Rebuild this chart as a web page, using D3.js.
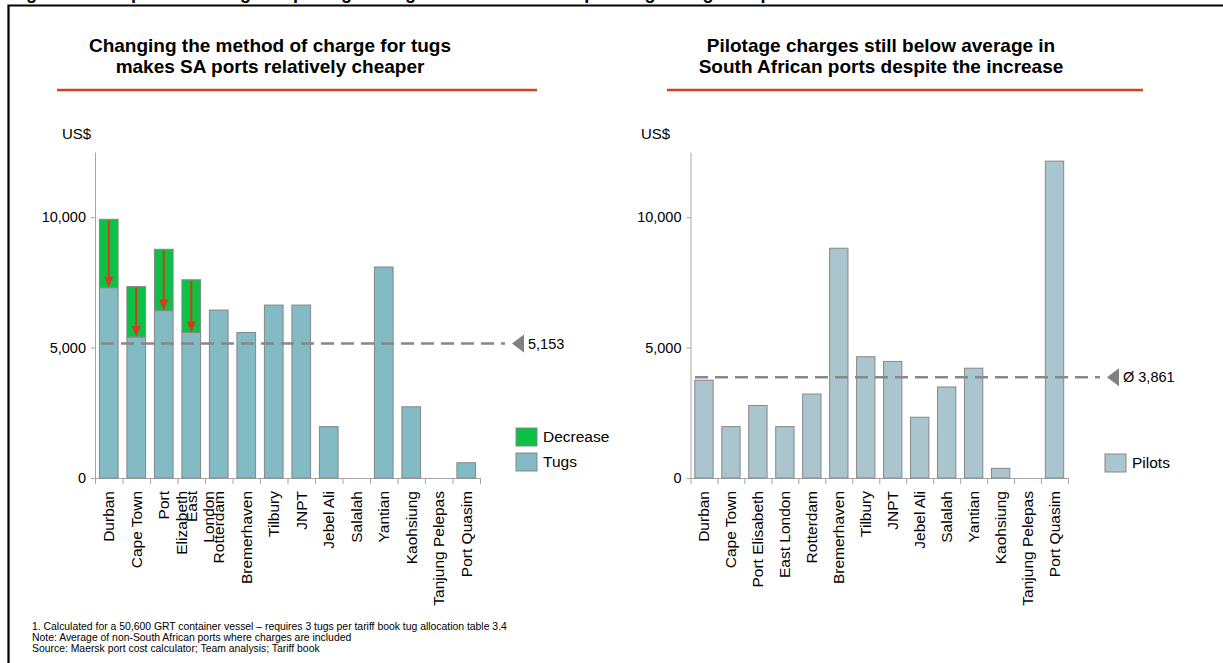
<!DOCTYPE html>
<html>
<head>
<meta charset="utf-8">
<script src="https://cdn.jsdelivr.net/npm/d3@7"></script>
<style>
  body { margin: 0; background: #fff; }
  svg { font-family: 'Liberation Sans', Arial, sans-serif; }
</style>
</head>
<body>
<svg id="chart" width="1223" height="663"></svg>
<script>
// left panel: tug charges
const tugPorts = ['Durban', 'Cape Town', 'Port\nElizabeth', 'East\nLondon', 'Rotterdam', 'Bremerhaven', 'Tilbury', 'JNPT', 'Jebel Ali', 'Salalah', 'Yantian', 'Kaohsiung', 'Tanjung Pelepas', 'Port Quasim'];
const tugValues = [7300, 5410, 6420, 5580, 6440, 5580, 6630, 6630, 1970, 0, 8090, 2730, 0, 585];
const decreaseValues = [2620, 1930, 2350, 2020, 0, 0, 0, 0, 0, 0, 0, 0, 0, 0];
const tugAverage = 5153;

// right panel: pilotage charges
const pilotPorts = ['Durban', 'Cape Town', 'Port Elisabeth', 'East London', 'Rotterdam', 'Bremerhaven', 'Tilbury', 'JNPT', 'Jebel Ali', 'Salalah', 'Yantian', 'Kaohsiung', 'Tanjung Pelepas', 'Port Quasim'];
const pilotValues = [3750, 1970, 2780, 1970, 3220, 8810, 4650, 4470, 2330, 3490, 4210, 370, 0, 12150];
const pilotAverage = 3861;

const yTicks = [0, 5000, 10000];
const yMax = 12500;

const svg = d3.select('#chart');
const axisColor = '#a6a6a6';
const barStroke = '#878787';

// frame + header line that sits above the page edge
svg.append('text')
  .attr('x', 10).attr('y', -1.5)
  .style('font-size', '18px').style('font-weight', 'bold')
  .text('Figure 6: Comparison of tug and pilotage charges in South African ports against global ports');
svg.append('path')
  .attr('d', 'M8.5,663 V5.5 H1223')
  .attr('fill', 'none').attr('stroke', '#000').attr('stroke-width', 2.2);

const y = d3.scaleLinear().domain([0, yMax]).range([478, 152]);

function drawTitle(lines, cx, x0, x1) {
  svg.append('text')
    .attr('text-anchor', 'middle')
    .style('font-size', '19px').style('font-weight', 'bold')
    .selectAll('tspan')
    .data(lines)
    .join('tspan')
    .attr('x', cx)
    .attr('y', (d, i) => 52 + i * 20.5)
    .text(d => d);
  svg.append('line')
    .attr('x1', x0).attr('x2', x1).attr('y1', 90).attr('y2', 90)
    .attr('stroke', '#d9401f').attr('stroke-width', 2.5);
}

function drawAxes(ports, x0, x1, usdX) {
  const x = d3.scaleBand().domain(ports).range([x0, x1]).paddingInner(0.32).paddingOuter(0.16);
  const edges = d3.scaleLinear().domain([0, ports.length]).range([x0, x1]);

  svg.append('text')
    .attr('x', usdX).attr('y', 139)
    .style('font-size', '15px')
    .text('US$');

  const yAxis = svg.append('g')
    .attr('transform', `translate(${x0},0)`)
    .call(d3.axisLeft(y).tickValues(yTicks).tickSize(4).tickSizeOuter(0).tickPadding(5).tickFormat(d3.format(',')));
  yAxis.selectAll('path, line').attr('stroke', axisColor);
  yAxis.selectAll('text').style('font-size', '14.5px').attr('fill', '#000').style('font-family', 'inherit');

  const xAxis = svg.append('g')
    .attr('transform', `translate(0,${y(0)})`)
    .call(d3.axisBottom(edges).tickValues(d3.range(ports.length + 1)).tickSize(6).tickSizeOuter(0).tickFormat(''));
  xAxis.selectAll('path, line').attr('stroke', axisColor);

  // rotated category labels, first line centred on the band
  svg.append('g')
    .selectAll('text')
    .data(ports)
    .join('text')
    .attr('transform', d => `translate(${x(d) + x.bandwidth() / 2},491) rotate(-90)`)
    .attr('text-anchor', 'end')
    .style('font-size', '15.5px')
    .selectAll('tspan')
    .data(d => d.split('\n'))
    .join('tspan')
    .attr('x', 0)
    .attr('dy', (d, i) => i == 0 ? '0.35em' : '1.12em')
    .text(d => d);

  return x;
}

function drawAverage(value, x0, x1, label) {
  svg.append('line')
    .attr('x1', x0).attr('x2', x1)
    .attr('y1', y(value)).attr('y2', y(value))
    .attr('stroke', '#888').attr('stroke-width', 2.5)
    .attr('stroke-dasharray', '13,7');
  const tip = x1 + 7;
  svg.append('path')
    .attr('d', `M${tip},${y(value)} L${tip + 12},${y(value) - 9} L${tip + 12},${y(value) + 9} Z`)
    .attr('fill', '#808080');
  svg.append('text')
    .attr('x', tip + 16).attr('y', y(value) + 5)
    .style('font-size', '14.5px')
    .text(label);
}

function drawLegend(items, lx, ly) {
  const g = svg.append('g');
  items.forEach((item, i) => {
    g.append('rect')
      .attr('x', lx).attr('y', ly + i * 25)
      .attr('width', 21).attr('height', 18)
      .attr('fill', item.color).attr('stroke', barStroke);
    g.append('text')
      .attr('x', lx + 27).attr('y', ly + i * 25 + 14)
      .style('font-size', '15.5px')
      .text(item.name);
  });
}

// ---------- left chart ----------
drawTitle(['Changing the method of charge for tugs', 'makes SA ports relatively cheaper'], 270, 57, 537);
const xTug = drawAxes(tugPorts, 95, 480, 62);

const tugColor = '#82bbc3';
const decreaseColor = '#0bc244';
const arrowColor = '#d63b1e';

svg.append('g')
  .selectAll('rect')
  .data(tugPorts.filter((d, i) => tugValues[i] > 0))
  .join('rect')
  .attr('x', d => xTug(d))
  .attr('width', xTug.bandwidth())
  .attr('y', d => y(tugValues[tugPorts.indexOf(d)]))
  .attr('height', d => y(0) - y(tugValues[tugPorts.indexOf(d)]))
  .attr('fill', tugColor)
  .attr('stroke', barStroke);

const decreasePorts = tugPorts.filter((d, i) => decreaseValues[i] > 0);

svg.append('g')
  .selectAll('rect')
  .data(decreasePorts)
  .join('rect')
  .attr('x', d => xTug(d))
  .attr('width', xTug.bandwidth())
  .attr('y', d => { const i = tugPorts.indexOf(d); return y(tugValues[i] + decreaseValues[i]); })
  .attr('height', d => { const i = tugPorts.indexOf(d); return y(tugValues[i]) - y(tugValues[i] + decreaseValues[i]); })
  .attr('fill', decreaseColor)
  .attr('stroke', barStroke);

// red arrows from old charge down to new charge
const arrows = svg.append('g')
  .selectAll('g')
  .data(decreasePorts)
  .join('g');
arrows.append('line')
  .attr('x1', d => xTug(d) + xTug.bandwidth() / 2)
  .attr('x2', d => xTug(d) + xTug.bandwidth() / 2)
  .attr('y1', d => { const i = tugPorts.indexOf(d); return y(tugValues[i] + decreaseValues[i]) + 1; })
  .attr('y2', d => y(tugValues[tugPorts.indexOf(d)]) - 8)
  .attr('stroke', arrowColor).attr('stroke-width', 2);
arrows.append('path')
  .attr('d', d => {
    const cx = xTug(d) + xTug.bandwidth() / 2;
    const ty = y(tugValues[tugPorts.indexOf(d)]);
    return `M${cx},${ty} L${cx - 4.5},${ty - 11} L${cx + 4.5},${ty - 11} Z`;
  })
  .attr('fill', arrowColor);

drawAverage(tugAverage, 101, 505, d3.format(',')(tugAverage));
drawLegend([{ name: 'Decrease', color: decreaseColor }, { name: 'Tugs', color: tugColor }], 516, 428);

// ---------- right chart ----------
drawTitle(['Pilotage charges still below average in', 'South African ports despite the increase'], 881, 667, 1143);
const xPilot = drawAxes(pilotPorts, 690.5, 1068, 641);

const pilotColor = '#abc5cf';

svg.append('g')
  .selectAll('rect')
  .data(pilotPorts.filter((d, i) => pilotValues[i] > 0))
  .join('rect')
  .attr('x', d => xPilot(d))
  .attr('width', xPilot.bandwidth())
  .attr('y', d => y(pilotValues[pilotPorts.indexOf(d)]))
  .attr('height', d => y(0) - y(pilotValues[pilotPorts.indexOf(d)]))
  .attr('fill', pilotColor)
  .attr('stroke', barStroke);

drawAverage(pilotAverage, 695, 1100, 'Ø ' + d3.format(',')(pilotAverage));
drawLegend([{ name: 'Pilots', color: pilotColor }], 1105, 454);

// footnotes
svg.append('g')
  .style('font-size', '10.4px')
  .selectAll('text')
  .data([
    '1. Calculated for a 50,600 GRT container vessel \u2013 requires 3 tugs per tariff book tug allocation table 3.4',
    'Note: Average of non-South African ports where charges are included',
    'Source: Maersk port cost calculator; Team analysis; Tariff book'
  ])
  .join('text')
  .attr('x', 32)
  .attr('y', (d, i) => 629.5 + i * 11)
  .text(d => d);
</script>
</body>
</html>
